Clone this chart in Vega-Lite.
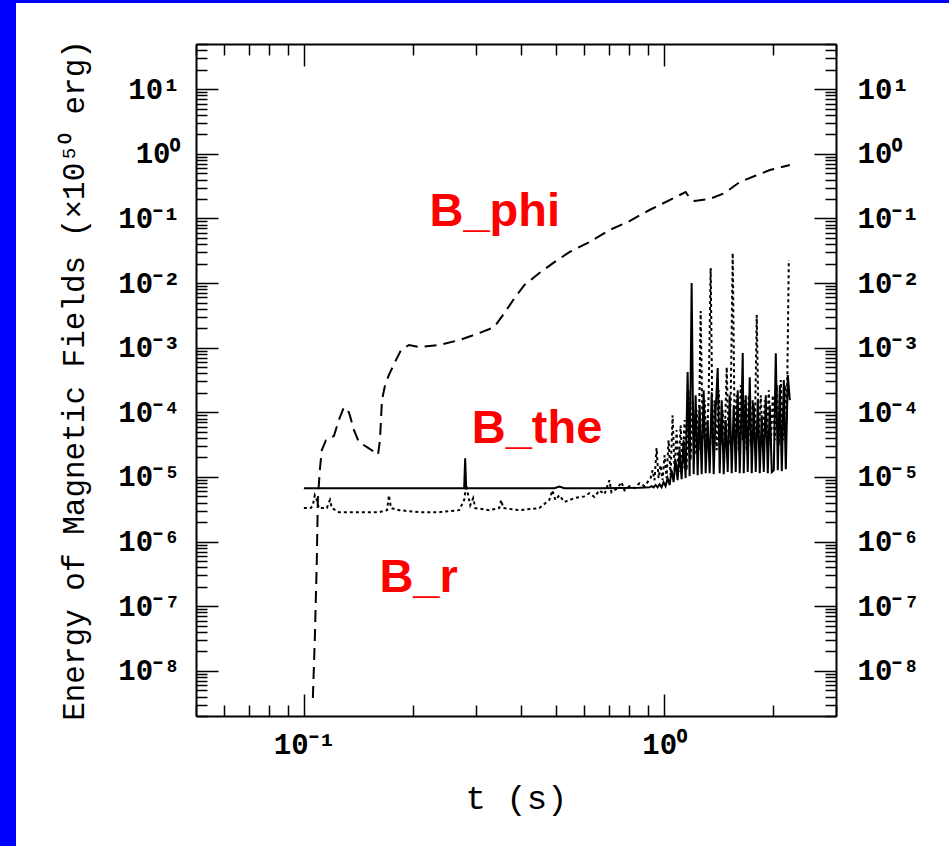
{
  "$schema": "https://vega.github.io/schema/vega-lite/v6.json",
  "background": "white",
  "padding": 0,
  "spacing": 0,
  "bounds": "flush",
  "config": {
    "view": {"stroke": null},
    "axis": {
      "labelFont": "Liberation Mono", "titleFont": "Liberation Mono",
      "labelColor": "#000", "titleColor": "#000", "tickColor": "#000", "domainColor": "#000",
      "grid": false, "titleFontWeight": "normal", "labelFontWeight": "bold",
      "labelFontSize": 29, "titleFontSize": 30, "tickWidth": 1.5, "domainWidth": 2,
      "labelOverlap": false, "labelFlush": false
    }
  },
  "vconcat": [
    {"width": 949, "height": 3, "view": {"fill": "#0000ff", "stroke": null}, "data": {"values": []}, "mark": "point"},
    {
      "spacing": 180,
      "bounds": "flush",
      "hconcat": [
        {"width": 16, "height": 843, "view": {"fill": "#0000ff", "stroke": null}, "data": {"values": []}, "mark": "point"},
        {
          "spacing": 0,
          "bounds": "flush",
          "vconcat": [
            {"width": 640, "height": 41, "data": {"values": []}, "mark": "point"},
            {
              "width": 640, "height": 672,
              "resolve": {"axis": {"x": "independent", "y": "independent"}},
              "layer": [
                {
                  "data": {"values": [
                    {"t":0.1056,"E":3.8e-9},{"t":0.1069,"E":2.97e-8},{"t":0.1083,"E":5.1e-7},{"t":0.1090,"E":4.4e-6},{"t":0.1104,"E":1.27e-5},{"t":0.1118,"E":2.6e-5},{"t":0.1148,"E":3.7e-5},{"t":0.1208,"E":4.3e-5},{"t":0.1247,"E":7.6e-5},{"t":0.1288,"E":1.2e-4},{"t":0.1330,"E":1.0e-4},{"t":0.1374,"E":5.3e-5},{"t":0.1418,"E":3.45e-5},{"t":0.1493,"E":2.9e-5},{"t":0.1571,"E":2.4e-5},{"t":0.1602,"E":2.2e-5},{"t":0.1622,"E":3.7e-5},{"t":0.1643,"E":1.54e-4},{"t":0.1675,"E":2.6e-4},{"t":0.1718,"E":3.8e-4},{"t":0.1786,"E":6.0e-4},{"t":0.1856,"E":9.2e-4},{"t":0.1954,"E":1.1e-3},{"t":0.2084,"E":1.02e-3},{"t":0.2368,"E":1.1e-3},{"t":0.2692,"E":1.31e-3},{"t":0.3060,"E":1.68e-3},{"t":0.3369,"E":2.08e-3},{"t":0.3592,"E":3.4e-3},{"t":0.3830,"E":5.8e-3},{"t":0.4084,"E":9.3e-3},{"t":0.4496,"E":0.0143},{"t":0.4951,"E":0.0211},{"t":0.5449,"E":0.0301},{"t":0.6194,"E":0.0431},{"t":0.7040,"E":0.066},{"t":0.8005,"E":0.091},{"t":0.9101,"E":0.135},{"t":1.0346,"E":0.192},{"t":1.1463,"E":0.256},{"t":1.1762,"E":0.207},{"t":1.2141,"E":0.186},{"t":1.3367,"E":0.200},{"t":1.4724,"E":0.247},{"t":1.6203,"E":0.366},{"t":1.7838,"E":0.453},{"t":1.9644,"E":0.561},{"t":2.2331,"E":0.670}
                  ]},
                  "mark": {"type": "line", "color": "#000", "strokeWidth": 2, "strokeDash": [12, 7], "clip": true},
                  "encoding": {
                    "x": {"field": "t", "type": "quantitative",
                      "scale": {"type": "log", "domain": [0.05, 3], "nice": false},
                      "axis": {"orient": "bottom", "values": [0.1, 1], "tickSize": -22, "labelPadding": 36, "title": "t (s)", "titleFontSize": 34, "titlePadding": 22,
                        "labelExpr": "'10' + (datum.value < 0.5 ? '⁻' : '') + ['⁰','¹','²','³','⁴','⁵','⁶','⁷','⁸','⁹'][abs(round(log(datum.value) / LN10))]"}},
                    "y": {"field": "E", "type": "quantitative",
                      "scale": {"type": "log", "domain": [2e-9, 50], "nice": false},
                      "axis": {"orient": "left", "values": [1e-8, 1e-7, 1e-6, 1e-5, 1e-4, 0.001, 0.01, 0.1, 1, 10], "tickSize": -22, "labelPadding": 38, "title": "Energy of Magnetic Fields (×10⁵⁰ erg)", "titleFontSize": 31, "titlePadding": 27,
                        "labelExpr": "'10' + (datum.value < 0.5 ? '⁻' : '') + ['⁰','¹','²','³','⁴','⁵','⁶','⁷','⁸','⁹'][abs(round(log(datum.value) / LN10))]"}}
                  }
                },
                {
                  "data": {"values": [
                    {"t":0.0997,"E":6.7e-6},{"t":0.2745,"E":6.7e-6},{"t":0.2780,"E":6.7e-6},{"t":0.2798,"E":1.95e-5},{"t":0.2816,"E":6.7e-6},{"t":0.4951,"E":6.7e-6},{"t":0.5110,"E":7.1e-6},{"t":0.5278,"E":6.7e-6},{"t":0.6606,"E":6.7e-6},{"t":0.8535,"E":6.8e-6},
                    {"t":0.9101,"E":6.9e-6},{"t":0.9218,"E":7.2e-6},{"t":0.9337,"E":6.9e-6},{"t":0.9458,"E":7.5e-6},{"t":0.9580,"E":6.9e-6},{"t":0.9703,"E":7.7e-6},{"t":0.9828,"E":6.9e-6},{"t":0.9956,"E":8.3e-6},{"t":1.0084,"E":7.2e-6},{"t":1.0214,"E":9.6e-6},{"t":1.0346,"E":7.5e-6},{"t":1.0479,"E":1.27e-5},{"t":1.0615,"E":8.3e-6},{"t":1.0751,"E":1.82e-5},{"t":1.0889,"E":8.9e-6},{"t":1.1030,"E":2.6e-5},{"t":1.1172,"E":9.2e-6},{"t":1.1316,"E":3.7e-5},{"t":1.1463,"E":9.6e-6},{"t":1.1610,"E":4.19e-4},{"t":1.1761,"E":1.03e-5},{"t":1.1913,"E":0.00998},{"t":1.2067,"E":1.10e-5},{"t":1.2222,"E":1.84e-4},{"t":1.2380,"E":1.06e-5},{"t":1.2540,"E":1.29e-4},{"t":1.2702,"E":1.10e-5},{"t":1.2866,"E":2.2e-4},{"t":1.3032,"E":1.14e-5},{"t":1.3200,"E":7.6e-5},{"t":1.3370,"E":1.14e-5},{"t":1.3543,"E":2.05e-4},{"t":1.3718,"E":1.10e-5},{"t":1.3895,"E":1.08e-4},{"t":1.4074,"E":4.83e-4},{"t":1.4256,"E":1.14e-5},{"t":1.4440,"E":1.54e-4},{"t":1.4626,"E":1.10e-5},{"t":1.4814,"E":7.6e-5},{"t":1.5005,"E":1.19e-5},{"t":1.5199,"E":1.84e-4},{"t":1.5394,"E":1.14e-5},{"t":1.5594,"E":1.29e-4},{"t":1.5795,"E":1.19e-5},{"t":1.5998,"E":2.2e-4},{"t":1.6204,"E":1.14e-5},{"t":1.6413,"E":1.54e-4},{"t":1.6519,"E":8.24e-4},{"t":1.6625,"E":1.14e-5},{"t":1.6839,"E":1.84e-4},{"t":1.7056,"E":1.19e-5},{"t":1.7277,"E":3.5e-4},{"t":1.7499,"E":1.14e-5},{"t":1.7725,"E":1.29e-4},{"t":1.7953,"E":1.19e-5},{"t":1.8185,"E":1.54e-4},{"t":1.8420,"E":1.14e-5},{"t":1.8658,"E":9.0e-5},{"t":1.8899,"E":1.19e-5},{"t":1.9143,"E":1.84e-4},{"t":1.9390,"E":1.14e-5},{"t":1.9640,"E":1.29e-4},{"t":1.9894,"E":1.19e-5},{"t":2.0151,"E":1.27e-5},{"t":2.0410,"E":8.2e-4},{"t":2.0674,"E":1.27e-5},{"t":2.0940,"E":2.63e-4},{"t":2.1211,"E":1.23e-5},{"t":2.1485,"E":3.15e-4},{"t":2.1761,"E":1.32e-5},{"t":2.2041,"E":3.76e-4},{"t":2.2331,"E":1.54e-4}
                  ]},
                  "mark": {"type": "line", "color": "#000", "strokeWidth": 2, "clip": true},
                  "encoding": {
                    "x": {"field": "t", "type": "quantitative",
                      "scale": {"type": "log", "domain": [0.05, 3], "nice": false},
                      "axis": {"orient": "bottom", "values": [0.05, 0.06, 0.07, 0.08, 0.09, 0.2, 0.3, 0.4, 0.5, 0.6, 0.7, 0.8, 0.9, 2, 3], "tickSize": -11, "labels": false, "domain": false, "title": null}},
                    "y": {"field": "E", "type": "quantitative",
                      "scale": {"type": "log", "domain": [2e-9, 50], "nice": false},
                      "axis": {"orient": "left", "tickSize": -11, "labels": false, "domain": false, "title": null,
                        "values": [2e-9,3e-9,4e-9,5e-9,6e-9,7e-9,8e-9,9e-9,2e-8,3e-8,4e-8,5e-8,6e-8,7e-8,8e-8,9e-8,2e-7,3e-7,4e-7,5e-7,6e-7,7e-7,8e-7,9e-7,2e-6,3e-6,4e-6,5e-6,6e-6,7e-6,8e-6,9e-6,2e-5,3e-5,4e-5,5e-5,6e-5,7e-5,8e-5,9e-5,2e-4,3e-4,4e-4,5e-4,6e-4,7e-4,8e-4,9e-4,0.002,0.003,0.004,0.005,0.006,0.007,0.008,0.009,0.02,0.03,0.04,0.05,0.06,0.07,0.08,0.09,0.2,0.3,0.4,0.5,0.6,0.7,0.8,0.9,2,3,4,5,6,7,8,9,20,30,40,50]}}
                  }
                },
                {
                  "data": {"values": [
                    {"t":0.0997,"E":3.3e-6},{"t":0.1042,"E":3.3e-6},{"t":0.1056,"E":3.66e-6},{"t":0.1069,"E":5.2e-6},{"t":0.1083,"E":4.4e-6},{"t":0.1097,"E":3.3e-6},{"t":0.1155,"E":3.3e-6},{"t":0.1178,"E":4.4e-6},{"t":0.1193,"E":3.3e-6},{"t":0.1247,"E":2.85e-6},{"t":0.1612,"E":2.85e-6},{"t":0.1697,"E":3.06e-6},{"t":0.1718,"E":5.2e-6},{"t":0.1741,"E":3.3e-6},{"t":0.1833,"E":3.06e-6},{"t":0.2084,"E":2.85e-6},{"t":0.2368,"E":2.85e-6},{"t":0.2692,"E":3.06e-6},{"t":0.2780,"E":4.4e-6},{"t":0.2816,"E":7.5e-6},{"t":0.2852,"E":5.2e-6},{"t":0.2890,"E":3.66e-6},{"t":0.2945,"E":4.7e-6},{"t":0.2983,"E":3.3e-6},{"t":0.3265,"E":3.06e-6},{"t":0.3478,"E":3.3e-6},{"t":0.3524,"E":4.4e-6},{"t":0.3569,"E":3.3e-6},{"t":0.3956,"E":3.06e-6},{"t":0.4496,"E":3.3e-6},{"t":0.4794,"E":4.4e-6},{"t":0.4887,"E":6.2e-6},{"t":0.4982,"E":4.4e-6},{"t":0.5110,"E":5.2e-6},{"t":0.5278,"E":4.1e-6},{"t":0.5627,"E":4.7e-6},{"t":0.5999,"E":5.0e-6},{"t":0.6194,"E":5.6e-6},{"t":0.6397,"E":4.9e-6},{"t":0.6606,"E":6.2e-6},{"t":0.6822,"E":5.4e-6},{"t":0.7040,"E":8.9e-6},{"t":0.7132,"E":5.8e-6},{"t":0.7413,"E":6.7e-6},{"t":0.7605,"E":8.3e-6},{"t":0.7753,"E":6.2e-6},{"t":0.8005,"E":7.2e-6},{"t":0.8268,"E":6.7e-6},{"t":0.8535,"E":8.0e-6},{"t":0.8815,"E":7.2e-6},
                    {"t":0.9160,"E":9.6e-6},{"t":0.9278,"E":1.27e-5},{"t":0.9397,"E":8.9e-6},{"t":0.9518,"E":2.79e-5},{"t":0.9641,"E":9.6e-6},{"t":0.9766,"E":1.52e-5},{"t":0.9891,"E":8.9e-6},{"t":1.0019,"E":2.17e-5},{"t":1.0149,"E":9.6e-6},{"t":1.0280,"E":3.7e-5},{"t":1.0412,"E":1.06e-5},{"t":1.0546,"E":9.0e-5},{"t":1.0683,"E":1.27e-5},{"t":1.0820,"E":5.3e-5},{"t":1.0960,"E":1.19e-5},{"t":1.1101,"E":6.3e-5},{"t":1.1244,"E":1.37e-5},{"t":1.1390,"E":7.6e-5},{"t":1.1537,"E":1.27e-5},{"t":1.1685,"E":2.2e-4},{"t":1.1836,"E":1.82e-5},{"t":1.1990,"E":1.54e-4},{"t":1.2144,"E":2.17e-5},{"t":1.2301,"E":1.08e-4},{"t":1.2460,"E":2.6e-5},{"t":1.2621,"E":3.68e-3},{"t":1.2783,"E":3.7e-5},{"t":1.2948,"E":1.54e-4},{"t":1.3116,"E":2.6e-5},{"t":1.3285,"E":1.84e-4},{"t":1.3456,"E":0.01706},{"t":1.3630,"E":3.1e-5},{"t":1.3806,"E":1.54e-4},{"t":1.3984,"E":2.6e-5},{"t":1.4165,"E":2.2e-4},{"t":1.4347,"E":3.1e-5},{"t":1.4532,"E":1.08e-4},{"t":1.4720,"E":3.7e-5},{"t":1.4909,"E":5.0e-4},{"t":1.5101,"E":3.1e-5},{"t":1.5296,"E":1.54e-4},{"t":1.5494,"E":0.0291},{"t":1.5694,"E":3.7e-5},{"t":1.5896,"E":1.84e-4},{"t":1.6101,"E":2.6e-5},{"t":1.6308,"E":2.63e-4},{"t":1.6519,"E":3.7e-5},{"t":1.6732,"E":1.54e-4},{"t":1.6947,"E":2.6e-5},{"t":1.7166,"E":1.84e-4},{"t":1.7387,"E":3.1e-5},{"t":1.7611,"E":1.54e-4},{"t":1.7839,"E":3.7e-5},{"t":1.8069,"E":3.19e-3},{"t":1.8302,"E":3.7e-5},{"t":1.8539,"E":1.84e-4},{"t":1.8778,"E":3.1e-5},{"t":1.9020,"E":1.54e-4},{"t":1.9266,"E":3.7e-5},{"t":1.9515,"E":2.2e-4},{"t":1.9767,"E":3.1e-5},{"t":2.0022,"E":1.84e-4},{"t":2.0279,"E":3.7e-5},{"t":2.0542,"E":2.63e-4},{"t":2.0807,"E":3.1e-5},{"t":2.1075,"E":3.15e-4},{"t":2.1347,"E":3.7e-5},{"t":2.1621,"E":2.63e-4},{"t":2.1900,"E":7.6e-5},{"t":2.2183,"E":0.0227}
                  ]},
                  "mark": {"type": "line", "color": "#000", "strokeWidth": 2, "strokeDash": [3, 3], "clip": true},
                  "encoding": {
                    "x": {"field": "t", "type": "quantitative",
                      "scale": {"type": "log", "domain": [0.05, 3], "nice": false},
                      "axis": {"orient": "top", "values": [0.1, 1], "tickSize": -22, "labels": false, "title": null}},
                    "y": {"field": "E", "type": "quantitative",
                      "scale": {"type": "log", "domain": [2e-9, 50], "nice": false},
                      "axis": {"orient": "right", "values": [1e-8, 1e-7, 1e-6, 1e-5, 1e-4, 0.001, 0.01, 0.1, 1, 10], "tickSize": -22, "labelPadding": 43, "title": null,
                        "labelExpr": "'10' + (datum.value < 0.5 ? '⁻' : '') + ['⁰','¹','²','³','⁴','⁵','⁶','⁷','⁸','⁹'][abs(round(log(datum.value) / LN10))]"}}
                  }
                },
                {
                  "data": {"values": [
                    {"t": 0.338, "E": 0.0762, "label": "B_phi"},
                    {"t": 0.443, "E": 3.33e-5, "label": "B_the"},
                    {"t": 0.2077, "E": 1.64e-7, "label": "B_r"}
                  ]},
                  "mark": {"type": "text", "font": "Liberation Sans", "fontWeight": "bold", "fontSize": 47, "color": "#ff0000", "align": "center", "baseline": "alphabetic"},
                  "encoding": {
                    "x": {"field": "t", "type": "quantitative",
                      "scale": {"type": "log", "domain": [0.05, 3], "nice": false},
                      "axis": {"orient": "top", "values": [0.05, 0.06, 0.07, 0.08, 0.09, 0.2, 0.3, 0.4, 0.5, 0.6, 0.7, 0.8, 0.9, 2, 3], "tickSize": -11, "labels": false, "domain": false, "title": null}},
                    "y": {"field": "E", "type": "quantitative",
                      "scale": {"type": "log", "domain": [2e-9, 50], "nice": false},
                      "axis": {"orient": "right", "tickSize": -11, "labels": false, "domain": false, "title": null,
                        "values": [2e-9,3e-9,4e-9,5e-9,6e-9,7e-9,8e-9,9e-9,2e-8,3e-8,4e-8,5e-8,6e-8,7e-8,8e-8,9e-8,2e-7,3e-7,4e-7,5e-7,6e-7,7e-7,8e-7,9e-7,2e-6,3e-6,4e-6,5e-6,6e-6,7e-6,8e-6,9e-6,2e-5,3e-5,4e-5,5e-5,6e-5,7e-5,8e-5,9e-5,2e-4,3e-4,4e-4,5e-4,6e-4,7e-4,8e-4,9e-4,0.002,0.003,0.004,0.005,0.006,0.007,0.008,0.009,0.02,0.03,0.04,0.05,0.06,0.07,0.08,0.09,0.2,0.3,0.4,0.5,0.6,0.7,0.8,0.9,2,3,4,5,6,7,8,9,20,30,40,50]}},
                    "text": {"field": "label"}
                  }
                }
              ]
            }
          ]
        }
      ]
    }
  ]
}
